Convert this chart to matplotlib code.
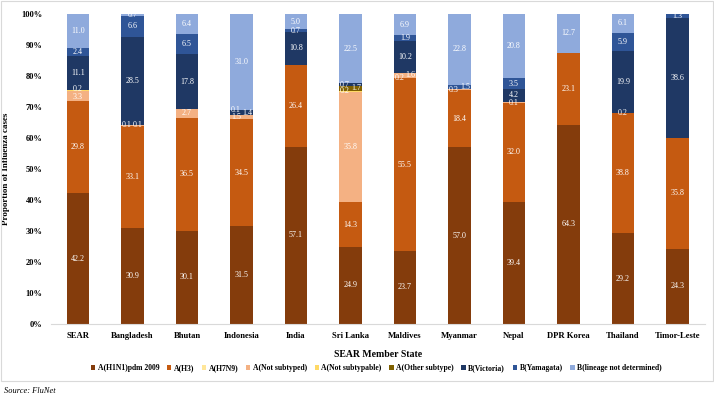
import matplotlib
matplotlib.use("Agg")
import matplotlib.pyplot as plt
from matplotlib.patches import Rectangle
import numpy as np

plt.rcParams['font.family'] = ['Liberation Serif', 'DejaVu Serif']

countries = ["SEAR", "Bangladesh", "Bhutan", "Indonesia", "India", "Sri Lanka",
             "Maldives", "Myanmar", "Nepal", "DPR Korea", "Thailand", "Timor-Leste"]

series_names = ["A(H1N1)pdm 2009", "A(H3)", "A(H7N9)", "A(Not subtyped)",
                "A(Not subtypable)", "A(Other subtype)", "B(Victoria)",
                "B(Yamagata)", "B(lineage not determined)"]

h1n1 = [42.2, 30.9, 30.1, 31.5, 57.1, 24.9, 23.7, 57.0, 39.4, 64.3, 29.2, 24.3]
h3 = [29.8, 33.1, 36.5, 34.5, 26.4, 14.3, 55.5, 18.4, 32.0, 23.1, 38.8, 35.8]
h7n9 = [0, 0, 0, 0, 0, 0, 0.2, 0, 0, 0, 0, 0]
not_subtyped = [3.3, 0.1, 2.7, 1.5, 0, 35.8, 1.6, 0.3, 0.1, 0, 0.2, 0]
not_subtypable = [0.2, 0, 0, 0, 0, 0.2, 0, 0, 0, 0, 0, 0]
other_subtype = [0, 0.1, 0, 0, 0, 1.7, 0, 0, 0, 0, 0, 0]
b_victoria = [11.1, 28.5, 17.8, 1.4, 10.8, 0.7, 10.2, 0, 4.2, 0, 19.9, 38.6]
b_yamagata = [2.4, 6.6, 6.5, 0.1, 0.7, 0, 1.9, 1.5, 3.5, 0, 5.9, 1.3]
b_lineage_nd = [11.0, 0.7, 6.4, 31.0, 5.0, 22.5, 6.9, 22.8, 20.8, 12.7, 6.1, 0]

series = [h1n1, h3, h7n9, not_subtyped, not_subtypable, other_subtype,
          b_victoria, b_yamagata, b_lineage_nd]
colors = ["#843C0C", "#C55A11", "#FFE699", "#F4B183", "#FFD966", "#7F6000",
          "#1F3864", "#2F5597", "#8FAADC"]

fig = plt.figure(figsize=(7.14, 4.0), dpi=100)
ax = fig.add_axes([0.071, 0.19, 0.916, 0.775])

x = np.arange(len(countries))
bottom = np.zeros(len(countries))
bw = 0.41
bars_all = []
for name, vals, col in zip(series_names, series, colors):
    v = np.array(vals, dtype=float)
    ax.bar(x, v, bw, bottom=bottom, color=col, label=name, edgecolor='none')
    bars_all.append((v, bottom.copy()))
    bottom += v

# data labels
for i in range(len(countries)):
    labs = []
    for v, b in bars_all:
        val = v[i]
        if val <= 0:
            continue
        labs.append([b[i] + val / 2, val, 0.0])
    for j in range(1, len(labs)):
        d = labs[j][0] - labs[j - 1][0]
        if d < 1.5:
            if labs[j - 1][2] == 0:
                labs[j - 1][2] = -0.1
            labs[j][2] = 0.1 if labs[j - 1][2] < 0 else -0.1
        elif d < 2.4:
            labs[j - 1][0] -= (2.4 - d) / 2
            labs[j][0] += (2.4 - d) / 2
    for c, val, xo in labs:
        ax.text(x[i] + xo, c, f"{val:.1f}", ha='center', va='center',
                color='white', fontsize=5.8)

ax.set_xlim(-0.5, len(countries) - 0.5)
ax.set_ylim(0, 100)
ax.set_yticks(np.arange(0, 101, 10))
ax.set_yticklabels([f"{t}%" for t in range(0, 101, 10)], fontsize=6, fontweight='bold')
ax.set_xticks(x)
ax.set_xticklabels(countries, fontsize=6.2, fontweight='bold')
ax.tick_params(axis='both', length=0, pad=6)
for s in ['top', 'right', 'left']:
    ax.spines[s].set_visible(False)
ax.spines['bottom'].set_color('#D9D9D9')
ax.set_ylabel("Proportion of Influenza cases", fontsize=6.5, fontweight='bold', labelpad=8)
ax.set_xlabel("SEAR Member State", fontsize=7, fontweight='bold', labelpad=7)

fig.legend(loc='center', bbox_to_anchor=(0.527, 1 - 368 / 400), ncol=9, frameon=False,
           handlelength=0.6, handleheight=0.6, handletextpad=0.3,
           columnspacing=1.0, prop={'weight': 'bold', 'size': 5.5})

fig.patches.append(Rectangle((0.002, 1 - 381 / 400), 0.996, 381 / 400 - 0.002,
                             transform=fig.transFigure, fill=False,
                             edgecolor='#D9D9D9', linewidth=0.8))
fig.text(4 / 714, 1 - 391 / 400, "Source: FluNet", fontsize=6, style='italic',
         va='center', ha='left')

fig.savefig("out.png", dpi=100)
